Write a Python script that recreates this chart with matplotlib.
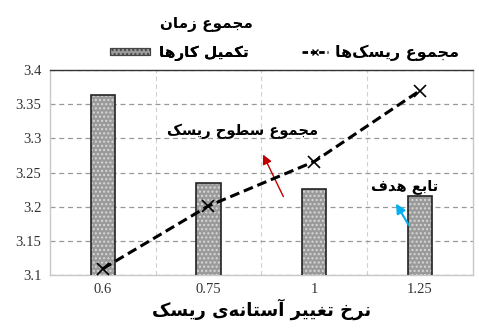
import matplotlib
matplotlib.use("Agg")
from matplotlib import pyplot as plt
from matplotlib.patches import Patch
from matplotlib.lines import Line2D

# data
categories = ["0.6", "0.75", "1", "1.25"]
time_total = [3.364, 3.235, 3.226, 3.216]
risk_total = [3.109, 3.201, 3.266, 3.370]
y_ticks = [3.1, 3.15, 3.2, 3.25, 3.3, 3.35, 3.4]
y_labels = ["3.1", "3.15", "3.2", "3.25", "3.3", "3.35", "3.4"]

label_time_top = "مجموع زمان"
label_time = "تکمیل کارها"
label_risk = "مجموع ریسک\u200cها"
label_levels = "مجموع سطوح ریسک"
label_goal = "تابع هدف"
label_x = "نرخ تغییر آستانه\u200cی ریسک"

# simple persian shaping (matplotlib has no complex text layout)
FORMS = {
    "ا": ("\uFE8D", "\uFE8E", None, None), "آ": ("\uFE81", "\uFE82", None, None),
    "ب": ("\uFE8F", "\uFE90", "\uFE91", "\uFE92"), "ت": ("\uFE95", "\uFE96", "\uFE97", "\uFE98"),
    "ج": ("\uFE9D", "\uFE9E", "\uFE9F", "\uFEA0"), "ح": ("\uFEA1", "\uFEA2", "\uFEA3", "\uFEA4"),
    "خ": ("\uFEA5", "\uFEA6", "\uFEA7", "\uFEA8"), "د": ("\uFEA9", "\uFEAA", None, None),
    "ر": ("\uFEAD", "\uFEAE", None, None), "ز": ("\uFEAF", "\uFEB0", None, None),
    "س": ("\uFEB1", "\uFEB2", "\uFEB3", "\uFEB4"), "ط": ("\uFEC1", "\uFEC2", "\uFEC3", "\uFEC4"),
    "ع": ("\uFEC9", "\uFECA", "\uFECB", "\uFECC"), "غ": ("\uFECD", "\uFECE", "\uFECF", "\uFED0"),
    "ف": ("\uFED1", "\uFED2", "\uFED3", "\uFED4"), "ل": ("\uFEDD", "\uFEDE", "\uFEDF", "\uFEE0"),
    "م": ("\uFEE1", "\uFEE2", "\uFEE3", "\uFEE4"), "ن": ("\uFEE5", "\uFEE6", "\uFEE7", "\uFEE8"),
    "ه": ("\uFEE9", "\uFEEA", "\uFEEB", "\uFEEC"), "و": ("\uFEED", "\uFEEE", None, None),
    "ی": ("\uFBFC", "\uFBFD", "\uFBFE", "\uFBFF"), "ک": ("\uFB8E", "\uFB8F", "\uFB90", "\uFB91"),
}


def fa(text):
    out = []
    for i, ch in enumerate(text):
        if ch not in FORMS:
            if ch != "\u200c":
                out.append(ch)
            continue
        prev = text[i - 1] if i > 0 else ""
        nxt = text[i + 1] if i + 1 < len(text) else ""
        join_prev = prev in FORMS and FORMS[prev][2] is not None
        join_next = FORMS[ch][2] is not None and nxt in FORMS
        iso, fin, ini, med = FORMS[ch]
        if join_prev and join_next:
            out.append(med)
        elif join_prev:
            out.append(fin)
        elif join_next:
            out.append(ini)
        else:
            out.append(iso)
    return "".join(out)[::-1]


x = list(range(len(categories)))

fig = plt.figure(figsize=(4.79, 3.34), dpi=100)
ax = fig.add_axes([0.104, 0.177, 0.883, 0.613])

# bars: grey with light dots, black outline
ax.bar(x, time_total, width=0.23, color="#9a9a9a", edgecolor="#d8d8d8",
       hatch="....", linewidth=0, zorder=2)
ax.bar(x, time_total, width=0.23, fill=False, edgecolor="#222222", linewidth=1.2, zorder=3)

ax.plot(x, risk_total, color="black", linestyle=(0, (3.2, 1.6)), linewidth=2.2,
        marker="x", markersize=9, markeredgewidth=1.2, zorder=4)

ax.set_xlim(-0.5, 3.5)
ax.set_ylim(3.1, 3.4)
ax.set_yticks(y_ticks)
ax.set_yticklabels(y_labels)
ax.set_xticks(x)
ax.set_xticklabels(categories)
for lab in ax.get_xticklabels() + ax.get_yticklabels():
    lab.set_fontfamily("Liberation Serif")
    lab.set_fontsize(10.5)
    lab.set_color("#333333")
ax.tick_params(length=0, pad=6)

ax.grid(axis="y", color="#999999", linestyle=(0, (4, 3)), linewidth=0.9, zorder=0)
ax.set_xticks([0.5, 1.5, 2.5], minor=True)
ax.tick_params(which="minor", length=0)
ax.grid(axis="x", which="minor", color="#d0d0d0", linestyle=(0, (4, 3)), linewidth=0.8, zorder=0)

ax.spines["top"].set_color("#333333")
ax.spines["top"].set_linewidth(1.0)
for s in ["left", "right", "bottom"]:
    ax.spines[s].set_color("#c8c8c8")
    ax.spines[s].set_linewidth(1.0)

ax.set_xlabel(fa(label_x), fontsize=13, fontweight="bold", family="DejaVu Sans", labelpad=2)

ax.annotate("", xy=(1.505, 3.28), xytext=(1.72, 3.211),
            arrowprops=dict(arrowstyle="-|>", color="#c00000", lw=1.0, mutation_scale=14))
ax.text(1.32, 3.31, fa(label_levels), fontsize=10.5, fontweight="bold", ha="center",
        va="center", zorder=5)
ax.annotate("", xy=(2.76, 3.208), xytext=(2.905, 3.17),
            arrowprops=dict(arrowstyle="-|>", color="#00b0f0", lw=1.5, mutation_scale=14))
ax.text(2.86, 3.229, fa(label_goal), fontsize=10.5, fontweight="bold", ha="center",
        va="center", zorder=5)

# legend in two parts, like the original
bar_handle = Patch(facecolor="#9a9a9a", edgecolor="#444444", hatch="....", linewidth=0.8)
line_handle = Line2D([], [], color="black", linestyle=(0, (2, 1)), linewidth=2, marker="x",
                     markersize=4)
leg1 = fig.legend([bar_handle], [fa(label_time)], loc="center",
                  bbox_to_anchor=(0.374, 0.841), frameon=False,
                  prop={"weight": "bold", "size": 11}, handlelength=2.6, handleheight=0.35,
                  handletextpad=0.6)
fig.legend([line_handle], [fa(label_risk)], loc="center",
           bbox_to_anchor=(0.795, 0.841), frameon=False,
           prop={"weight": "bold", "size": 11.5}, handlelength=1.6, handletextpad=0.45)
fig.add_artist(leg1)
fig.text(0.432, 0.928, fa(label_time_top), fontsize=11, fontweight="bold", ha="center",
         va="center")

fig.savefig("out.png", dpi=100)
